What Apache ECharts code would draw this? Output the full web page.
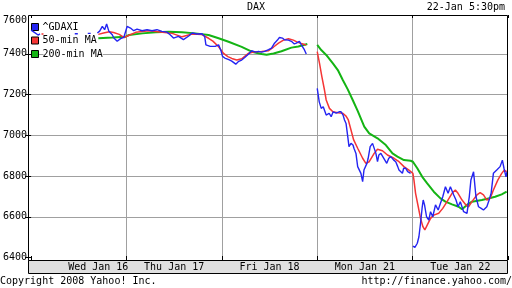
<!DOCTYPE html>
<html>
<head>
    <meta charset="utf-8">
    <title>DAX</title>
    <script src="https://cdn.jsdelivr.net/npm/echarts@6.0.0/dist/echarts.min.js"></script>
</head>
<body style="margin:0;">
<div id="chart" style="width:512px; height:288px;"></div>
<script>
    // x = trading day index (0 = Wed Jan 16 open, 5 = Tue Jan 22 close), '-' = gap
    var dayLabels = ['Wed Jan 16', 'Thu Jan 17', 'Fri Jan 18', 'Mon Jan 21', 'Tue Jan 22'];

    var gdaxi = [
        [0.000, 7516], [0.031, 7506], [0.073, 7492], [0.094, 7497], [0.100, '-'],
        [0.458, 7498], [0.490, 7498], [0.500, '-'],
        [0.594, 7500], [0.625, 7500], [0.650, '-'],
        [0.695, 7502], [0.719, 7511], [0.747, 7534], [0.771, 7518], [0.792, 7546],
        [0.816, 7510], [0.851, 7493], [0.868, 7477], [0.903, 7461], [0.938, 7474],
        [0.972, 7480], [0.990, 7485],
        [1.007, 7534], [1.042, 7526], [1.076, 7513], [1.111, 7521], [1.164, 7513],
        [1.216, 7518], [1.268, 7513], [1.320, 7518], [1.372, 7510], [1.424, 7506],
        [1.458, 7493], [1.493, 7477], [1.545, 7485], [1.597, 7469], [1.615, 7467],
        [1.653, 7487], [1.688, 7502], [1.740, 7497], [1.792, 7498], [1.820, 7485],
        [1.833, 7444], [1.878, 7436], [1.930, 7436], [1.966, 7444], [1.993, 7412],
        [2.007, 7387], [2.031, 7379], [2.073, 7371], [2.104, 7364], [2.146, 7349],
        [2.177, 7363], [2.208, 7369], [2.240, 7382], [2.281, 7399], [2.313, 7415],
        [2.354, 7408], [2.385, 7412], [2.417, 7408], [2.448, 7412], [2.490, 7420],
        [2.521, 7428], [2.552, 7452], [2.583, 7467], [2.604, 7480], [2.635, 7477],
        [2.656, 7469], [2.698, 7467], [2.729, 7461], [2.760, 7448], [2.781, 7452],
        [2.813, 7461], [2.833, 7444], [2.865, 7420], [2.885, 7399], [2.950, '-'],
        [3.000, 7230], [3.021, 7164], [3.042, 7132], [3.063, 7140], [3.094, 7099],
        [3.125, 7108], [3.146, 7091], [3.167, 7115], [3.198, 7109], [3.229, 7115],
        [3.250, 7115], [3.271, 7099], [3.286, 7075], [3.302, 7058], [3.320, 6993],
        [3.333, 6944], [3.354, 6960], [3.375, 6952], [3.385, 6936], [3.406, 6911],
        [3.424, 6846], [3.438, 6838], [3.458, 6813], [3.476, 6772], [3.490, 6829],
        [3.521, 6862], [3.534, 6887], [3.555, 6944], [3.580, 6960], [3.597, 6952],
        [3.615, 6911], [3.632, 6870], [3.646, 6903], [3.667, 6911], [3.698, 6887],
        [3.729, 6862], [3.750, 6887], [3.771, 6895], [3.802, 6878], [3.823, 6870],
        [3.844, 6846], [3.857, 6829], [3.875, 6838], [3.893, 6813], [3.906, 6838],
        [3.927, 6838], [3.948, 6821], [3.961, 6821], [3.979, 6813], [3.990, '-'],
        [4.003, 6456], [4.024, 6450], [4.049, 6470], [4.066, 6502], [4.083, 6568],
        [4.101, 6649], [4.111, 6682], [4.125, 6658], [4.146, 6600], [4.170, 6584],
        [4.188, 6625], [4.211, 6600], [4.240, 6658], [4.268, 6633], [4.292, 6666],
        [4.316, 6698], [4.344, 6747], [4.372, 6715], [4.396, 6747], [4.431, 6707],
        [4.455, 6682], [4.476, 6649], [4.500, 6674], [4.535, 6625], [4.570, 6617],
        [4.594, 6698], [4.611, 6780], [4.639, 6821], [4.664, 6698], [4.691, 6649],
        [4.719, 6641], [4.743, 6633], [4.778, 6649], [4.802, 6682], [4.823, 6715],
        [4.847, 6813], [4.882, 6829], [4.917, 6846], [4.941, 6878], [4.958, 6838],
        [4.979, 6796], [4.990, 6821]
    ];

    var ma50 = [
        [0.109, 7497], [0.130, 7497], [0.140, '-'],
        [0.705, 7495], [0.760, 7502], [0.820, 7508], [0.865, 7504], [0.924, 7495],
        [0.976, 7479], [1.010, 7487], [1.097, 7505], [1.236, 7513], [1.375, 7505],
        [1.479, 7500], [1.583, 7483], [1.688, 7497], [1.792, 7494], [1.861, 7476],
        [1.906, 7462], [1.966, 7434], [2.018, 7402], [2.063, 7386], [2.104, 7377],
        [2.156, 7369], [2.208, 7375], [2.278, 7402], [2.347, 7410], [2.417, 7411],
        [2.490, 7415], [2.542, 7433], [2.594, 7452], [2.646, 7467], [2.698, 7474],
        [2.750, 7467], [2.792, 7457], [2.833, 7450], [2.885, 7443], [2.950, '-'],
        [3.000, 7410], [3.024, 7353], [3.049, 7287], [3.076, 7222], [3.094, 7173],
        [3.128, 7132], [3.164, 7115], [3.216, 7110], [3.268, 7108], [3.302, 7094],
        [3.326, 7075], [3.354, 7026], [3.382, 6977], [3.424, 6936], [3.476, 6887],
        [3.510, 6862], [3.545, 6870], [3.597, 6911], [3.632, 6931], [3.684, 6924],
        [3.736, 6903], [3.805, 6887], [3.857, 6870], [3.909, 6846], [3.961, 6829],
        [3.979, 6821], [4.003, 6813], [4.014, 6780], [4.031, 6715], [4.059, 6649],
        [4.083, 6592], [4.108, 6551], [4.128, 6535], [4.153, 6559], [4.188, 6592],
        [4.222, 6608], [4.274, 6617], [4.316, 6641], [4.361, 6674], [4.413, 6715],
        [4.448, 6731], [4.476, 6715], [4.518, 6682], [4.559, 6658], [4.586, 6649],
        [4.622, 6674], [4.674, 6707], [4.708, 6718], [4.743, 6707], [4.778, 6682],
        [4.813, 6690], [4.847, 6731], [4.893, 6780], [4.934, 6813], [4.961, 6829],
        [4.986, 6821]
    ];

    var ma200 = [
        [0.705, 7476], [0.854, 7480], [0.990, 7484], [1.028, 7492], [1.167, 7500],
        [1.305, 7505], [1.445, 7508], [1.583, 7505], [1.722, 7500], [1.861, 7492],
        [1.966, 7476], [2.070, 7459], [2.208, 7434], [2.313, 7410], [2.417, 7399],
        [2.469, 7395], [2.542, 7401], [2.625, 7412], [2.729, 7430], [2.802, 7436],
        [2.896, 7448], [2.950, '-'],
        [3.000, 7443], [3.042, 7418], [3.094, 7394], [3.164, 7353], [3.216, 7320],
        [3.268, 7271], [3.320, 7225], [3.372, 7173], [3.424, 7120], [3.493, 7042],
        [3.545, 7009], [3.632, 6985], [3.719, 6952], [3.789, 6911], [3.841, 6895],
        [3.909, 6878], [3.979, 6875], [4.003, 6870], [4.049, 6838], [4.101, 6796],
        [4.153, 6764], [4.222, 6723], [4.292, 6690], [4.344, 6674], [4.413, 6661],
        [4.482, 6649], [4.518, 6637], [4.570, 6658], [4.622, 6674], [4.726, 6682],
        [4.795, 6690], [4.865, 6698], [4.934, 6710], [4.986, 6723]
    ];

    var mono = 'DejaVu Sans Mono';
    var plainText = {fontFamily: mono, fontSize: 10, fontWeight: 'normal', color: '#000'};

    var myChart = echarts.init(document.getElementById('chart'));
    var option = {
        animation: false,
        textStyle: {fontFamily: mono, fontSize: 10, color: '#000'},
        title: [
            {text: 'DAX', left: 'center', top: 2, padding: 0, textStyle: plainText},
            {text: '22-Jan 5:30pm', right: 7, top: 2, padding: 0, textStyle: plainText},
            {text: 'Copyright 2008 Yahoo! Inc.', left: 0, top: 276, padding: 0, textStyle: plainText},
            {text: 'http://finance.yahoo.com/', right: 0, top: 276, padding: 0, textStyle: plainText}
        ],
        legend: {
            left: 31, top: 22, orient: 'vertical', padding: 0,
            itemWidth: 7, itemHeight: 7, itemGap: 3.5,
            icon: 'rect',
            itemStyle: {borderColor: '#000', borderWidth: 1},
            textStyle: {fontFamily: mono, fontSize: 10, color: '#000', backgroundColor: '#fff', padding: [0, 0, 0, -1]},
            data: ['^GDAXI', '50-min MA', '200-min MA']
        },
        grid: {left: 28, right: 4, top: 13, bottom: 30.5},
        xAxis: [
            {
                type: 'value', min: 0, max: 5, interval: 1, position: 'bottom', offset: 2.5,
                axisLine: {show: false},
                axisTick: {show: true, inside: true, length: 4, lineStyle: {color: '#000'}},
                axisLabel: {show: false},
                splitLine: {show: true, showMinLine: false, showMaxLine: false, lineStyle: {color: '#a0a0a0'}}
            },
            {
                type: 'category', data: dayLabels, position: 'bottom', offset: 2.5, z: 20,
                boundaryGap: true,
                axisLine: {show: false}, axisTick: {show: false}, splitLine: {show: false},
                axisLabel: {
                    margin: 2, fontFamily: mono, fontSize: 10, color: '#000', interval: 0,
                    formatter: function (v, i) { return i === 0 ? '{w|' + v + '}' : v; },
                    rich: {w: {padding: [0, 0, 0, 39], fontFamily: mono, fontSize: 10, color: '#000'}}
                }
            },
            {
                type: 'value', min: 0, max: 5, interval: 1, position: 'top', offset: -2,
                axisLine: {show: false},
                axisTick: {show: true, inside: true, length: 3, lineStyle: {color: '#000'}},
                axisLabel: {show: false}, splitLine: {show: false}
            }
        ],
        yAxis: [
            {
                type: 'value', min: 6400, max: 7600, interval: 200, position: 'left',
                axisLine: {show: false},
                axisTick: {show: true, length: 4, lineStyle: {color: '#000'}},
                axisLabel: {
                    margin: 4, fontFamily: mono, fontSize: 10, color: '#000',
                    formatter: function (v) { return v === 7600 ? '{t|' + v + '}' : String(v); },
                    rich: {t: {padding: [14, 0, 0, 0], fontFamily: mono, fontSize: 10, color: '#000'}}
                },
                splitLine: {show: true, showMinLine: false, showMaxLine: false, lineStyle: {color: '#a0a0a0'}}
            },
            {
                type: 'value', min: 6400, max: 7600, interval: 200, position: 'right',
                axisLine: {show: false},
                axisTick: {show: true, inside: true, length: 6, lineStyle: {color: '#000'}},
                axisLabel: {show: false}, splitLine: {show: false}
            }
        ],
        graphic: [
            {type: 'rect', z: 4, shape: {x: 23, y: 12, width: 489, height: 3}, style: {fill: '#fff'}},
            {type: 'rect', z: 5, shape: {x: 28.5, y: 15.5, width: 479, height: 245}, style: {fill: 'transparent', stroke: '#000', lineWidth: 1}},
            {type: 'rect', z: 5, shape: {x: 28.5, y: 260.5, width: 479, height: 13}, style: {fill: '#e0e0e0', stroke: '#000', lineWidth: 1}}
        ],
        series: [
            {
                name: '^GDAXI', type: 'line', data: gdaxi, showSymbol: false, connectNulls: false,
                color: '#2424f2', lineStyle: {width: 1.4, color: '#2424f2'}, z: 4
            },
            {
                name: '50-min MA', type: 'line', data: ma50, showSymbol: false, connectNulls: false,
                color: '#f53535', lineStyle: {width: 1.5, color: '#f53535'}, z: 3
            },
            {
                name: '200-min MA', type: 'line', data: ma200, showSymbol: false, connectNulls: false,
                color: '#14b414', lineStyle: {width: 2, color: '#14b414'}, z: 2
            }
        ]
    };
    myChart.setOption(option);
</script>
</body>
</html>
